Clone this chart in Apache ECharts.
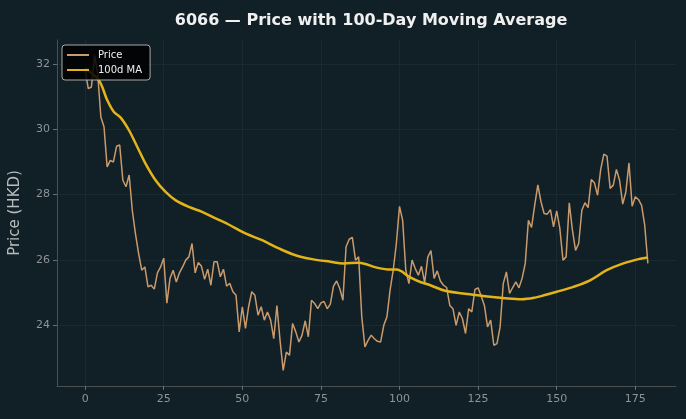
<!DOCTYPE html>
<html>
<head>
<meta charset="utf-8">
<title>6066 price</title>
<script src="https://cdn.jsdelivr.net/npm/echarts@6/dist/echarts.min.js"></script>
<style>
  html, body { margin: 0; padding: 0; background: #111f26; }
  #main { width: 686px; height: 419px; }
</style>
</head>
<body>
<div id="main"></div>
<script>
// 每日收盘价 (day 0..179)
const price = [
  31.82, 31.25, 31.3, 32.28, 31.7, 30.38, 30.08, 28.85, 29.05, 29.0,
  29.48, 29.52, 28.44, 28.24, 28.6, 27.52, 26.8, 26.2, 25.68, 25.78,
  25.17, 25.22, 25.1, 25.6, 25.78, 26.05, 24.67, 25.43, 25.68, 25.32,
  25.6, 25.78, 25.99, 26.09, 26.5, 25.6, 25.92, 25.8, 25.4, 25.71,
  25.22, 25.94, 25.94, 25.48, 25.71, 25.19, 25.28, 25.02, 24.91, 23.79,
  24.56, 23.9, 24.56, 25.02, 24.91, 24.3, 24.56, 24.15, 24.4, 24.15,
  23.58, 24.6, 23.53, 22.61, 23.17, 23.07, 24.05, 23.79, 23.48, 23.69,
  24.13, 23.64, 24.76, 24.66, 24.5, 24.68, 24.72, 24.5, 24.64, 25.19,
  25.35, 25.12, 24.76, 26.4, 26.63, 26.69, 25.99, 26.09, 24.25, 23.33,
  23.53, 23.69, 23.58, 23.5, 23.48, 23.99, 24.25, 25.07, 25.68, 26.5,
  27.64, 27.21, 25.68, 25.27, 25.99, 25.73, 25.53, 25.8, 25.3, 26.08,
  26.28, 25.43, 25.66, 25.35, 25.22, 25.15, 24.6, 24.5, 23.99, 24.4,
  24.2, 23.74, 24.5, 24.4, 25.09, 25.14, 24.88, 24.6, 23.94, 24.15,
  23.38, 23.43, 23.94, 25.27, 25.63, 24.97, 25.15, 25.32, 25.14, 25.43,
  25.89, 27.21, 26.99, 27.67, 28.3, 27.78, 27.42, 27.4, 27.54, 27.01,
  27.5, 26.96, 25.99, 26.09, 27.75, 26.91, 26.29, 26.5, 27.52, 27.75,
  27.6, 28.46, 28.36, 27.98, 28.77, 29.24, 29.18, 28.19, 28.29, 28.77,
  28.44, 27.71, 28.08, 28.97, 27.64, 27.93, 27.85, 27.67, 27.06, 25.89
]

// 100日均线 读取点 [day, value]
const ma100 = [
  [0, 31.87], [4.4, 31.5], [7, 30.9], [9.1, 30.54], [11.3, 30.36], [13.9, 29.98],
  [16.6, 29.46], [19.2, 28.95], [22.4, 28.44], [25.6, 28.08], [28.7, 27.83], [33, 27.62],
  [37.2, 27.47], [41.5, 27.27], [45.5, 27.09], [51, 26.81], [56.3, 26.6], [61.6, 26.35],
  [66.9, 26.14], [72.2, 26.02], [78, 25.94], [82.2, 25.89], [87, 25.91], [92.8, 25.76],
  [97, 25.7], [99, 25.7], [103.4, 25.46], [106.6, 25.32], [109.8, 25.22], [114.5, 25.05],
  [120.9, 24.96], [127.2, 24.88], [133.6, 24.82], [138.9, 24.79], [143.1, 24.84], [146.3, 24.92],
  [150, 25.02], [155.3, 25.17], [160.6, 25.37], [165.9, 25.68], [171.2, 25.89], [176.5, 26.03],
  [179, 26.07]
]

const xTicks = [0, 25, 50, 75, 100, 125, 150, 175]
const yTicks = [24, 26, 28, 30, 32]

const chart = echarts.init(document.getElementById('main'), null, { renderer: 'canvas' })

let priceData = price.map((v, i) => [i, v])

let option = {
  backgroundColor: '#111f26',
  animation: false,
  title: {
    text: '6066 — Price with 100-Day Moving Average',
    left: 366,
    textAlign: 'center',
    top: 8,
    textStyle: {
      color: '#f0f0f0',
      fontFamily: 'DejaVu Sans',
      fontWeight: 'bold',
      fontSize: 16
    }
  },
  legend: {
    orient: 'vertical',
    left: 62,
    top: 45,
    padding: [5, 8, 5, 5],
    itemGap: 5,
    itemWidth: 22,
    itemHeight: 2,
    icon: 'rect',
    backgroundColor: 'rgba(0,0,0,0.85)',
    borderColor: '#aaaaaa',
    borderWidth: 1,
    borderRadius: 3,
    textStyle: { color: '#f0f0f0', fontFamily: 'DejaVu Sans', fontSize: 10, padding: [0, 0, 0, 4] },
    data: ['Price', '100d MA']
  },
  grid: { left: 56, right: 10, top: 40, bottom: 33, containLabel: false },
  xAxis: {
    type: 'value',
    min: -8.95,
    max: 187.95,
    axisLine: { show: true, onZero: false, lineStyle: { color: '#4a4f52' } },
    axisTick: { show: true, length: 4, lineStyle: { color: '#6a6f72' }, customValues: xTicks },
    axisLabel: { color: '#8e9396', fontFamily: 'DejaVu Sans', fontSize: 11, margin: 8, customValues: xTicks },
    splitLine: { show: true, lineStyle: { color: '#1a2a31', width: 1 } }
  },
  yAxis: {
    type: 'value',
    min: 22.13,
    max: 32.74,
    name: 'Price (HKD)',
    nameLocation: 'middle',
    nameGap: 34,
    nameTextStyle: { color: '#b8bcbe', fontFamily: 'DejaVu Sans', fontSize: 15 },
    axisLine: { show: true, onZero: false, lineStyle: { color: '#4a4f52' } },
    axisTick: { show: true, length: 4, lineStyle: { color: '#6a6f72' }, customValues: yTicks },
    axisLabel: { color: '#8e9396', fontFamily: 'DejaVu Sans', fontSize: 11, margin: 7, customValues: yTicks },
    splitLine: { show: true, lineStyle: { color: '#1a2a31', width: 1 } }
  },
  series: [
    {
      name: 'Price',
      type: 'line',
      data: priceData,
      symbol: 'none',
      color: '#c99b6c',
      lineStyle: { color: '#c99b6c', width: 1.5 },
      z: 2
    },
    {
      name: '100d MA',
      type: 'line',
      data: ma100,
      symbol: 'none',
      smooth: 0.35,
      color: '#e3b419',
      lineStyle: { color: '#e3b419', width: 2.5 },
      z: 3
    }
  ]
}

chart.setOption(option)
</script>
</body>
</html>
